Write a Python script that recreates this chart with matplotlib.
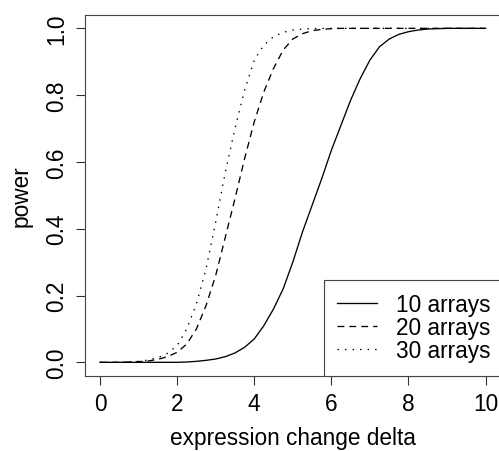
import matplotlib
matplotlib.use('Agg')
import matplotlib.pyplot as plt

plt.rcParams['font.family'] = ['Liberation Sans', 'DejaVu Sans']

# effect size grid and power values
delta = [0.0, 0.25, 0.5, 0.75, 1.0, 1.25, 1.5, 1.75, 2.0, 2.25, 2.5, 2.75,
         3.0, 3.25, 3.5, 3.75, 4.0, 4.25, 4.5, 4.75, 5.0, 5.25, 5.5, 5.75,
         6.0, 6.25, 6.5, 6.75, 7.0, 7.25, 7.5, 7.75, 8.0, 8.25, 8.5, 8.75,
         9.0, 9.25, 9.5, 9.75, 10.0]

power_10 = [0.0, 0.0, 0.0, 0.0, 0.0, 0.0, 0.0, 0.0, 0.0, 0.001, 0.003, 0.006,
            0.010, 0.017, 0.028, 0.045, 0.07, 0.11, 0.16, 0.22, 0.30, 0.39, 0.47, 0.55,
            0.635, 0.71, 0.785, 0.85, 0.905, 0.945, 0.968, 0.982, 0.99, 0.995, 0.998, 0.999,
            1.0, 1.0, 1.0, 1.0, 1.0]

power_20 = [0.0, 0.0, 0.0, 0.001, 0.002, 0.004, 0.009, 0.017, 0.03, 0.055, 0.10, 0.17,
            0.26, 0.375, 0.49, 0.61, 0.72, 0.81, 0.88, 0.935, 0.968, 0.984, 0.993, 0.997,
            0.999, 1.0, 1.0, 1.0, 1.0, 1.0, 1.0, 1.0, 1.0, 1.0, 1.0, 1.0,
            1.0, 1.0, 1.0, 1.0, 1.0]

power_30 = [0.0, 0.0, 0.0, 0.001, 0.003, 0.007, 0.014, 0.027, 0.05, 0.10, 0.175, 0.28,
            0.42, 0.57, 0.70, 0.815, 0.905, 0.95, 0.975, 0.988, 0.995, 0.998, 0.999, 1.0,
            1.0, 1.0, 1.0, 1.0, 1.0, 1.0, 1.0, 1.0, 1.0, 1.0, 1.0, 1.0,
            1.0, 1.0, 1.0, 1.0, 1.0]

labels = ['10 arrays', '20 arrays', '30 arrays']

W, H = 499, 452
fig = plt.figure(figsize=(W / 100, H / 100), dpi=100)
# axes box runs slightly past the right edge, like the cropped original
ax = fig.add_axes([84.6 / W, 75.3 / H, (501 - 84.6) / W, (376.7 - 16) / H])

lw = 0.95
ax.plot(delta, power_10, color='black', lw=lw, linestyle='-', label=labels[0])
ax.plot(delta, power_20, color='black', lw=lw, linestyle=(0, (5.2, 3.8)), label=labels[1])
ax.plot(delta, power_30, color='black', lw=lw, linestyle=(0, (1.1, 4.6)), label=labels[2])

ax.set_xlim(-0.4, 10.4)
ax.set_ylim(-0.04, 1.04)
ax.set_xticks([0, 2, 4, 6, 8, 10])
ax.set_yticks([0.0, 0.2, 0.4, 0.6, 0.8, 1.0])
ax.set_yticklabels(['0.0', '0.2', '0.4', '0.6', '0.8', '1.0'],
                   rotation=90, va='center')

fs = 16.3
ax.tick_params(axis='both', labelsize=fs, length=6.8, width=0.8, color='#333333')
ax.tick_params(axis='x', pad=5)
ax.tick_params(axis='y', pad=5)
for sp in ax.spines.values():
    sp.set_color('#444444')
    sp.set_linewidth(0.8)

ax.set_xlabel('expression change delta', fontsize=fs, labelpad=8)
ax.set_ylabel('power', fontsize=fs, labelpad=9)

leg = ax.legend(loc='lower right', bbox_to_anchor=(1.008, 0.0), fontsize=fs,
                frameon=True, fancybox=False, framealpha=1, edgecolor='#444444',
                borderpad=0.6, labelspacing=0.0, handlelength=1.75,
                handletextpad=0.85, borderaxespad=0)
leg.get_frame().set_linewidth(0.8)

fig.savefig('out.png', dpi=100)
